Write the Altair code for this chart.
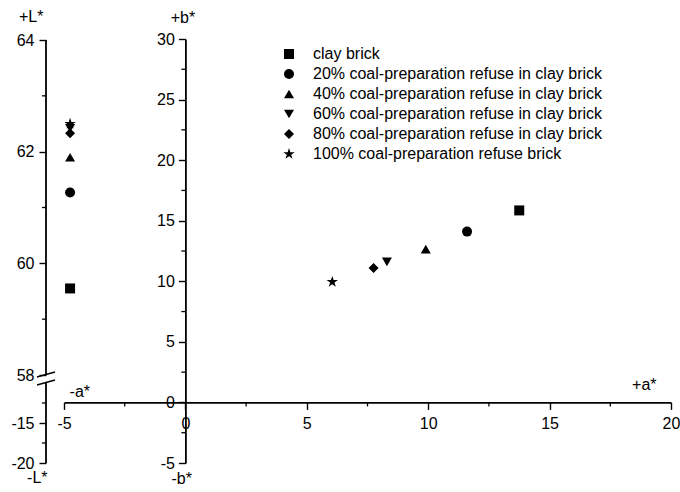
import altair as alt
import pandas as pd

# ---- data ----
labels = [
    "clay brick",
    "20% coal-preparation refuse in clay brick",
    "40% coal-preparation refuse in clay brick",
    "60% coal-preparation refuse in clay brick",
    "80% coal-preparation refuse in clay brick",
    "100% coal-preparation refuse brick",
]
a_star = [13.75, 11.6, 9.9, 8.3, 7.75, 6.05]
b_star = [15.85, 14.1, 12.65, 11.6, 11.1, 9.95]
L_star = [59.55, 61.27, 61.9, 62.42, 62.33, 62.5]

x_ticks = [-5, 0, 5, 10, 15, 20]
x_minor = [-2.5, 2.5, 7.5, 12.5, 17.5]
b_ticks = [-5, 0, 5, 10, 15, 20, 25, 30]
b_minor = [-2.5, 2.5, 7.5, 12.5, 17.5, 22.5, 27.5]
L_ticks = [-20, -15, 58, 60, 62, 64]
L_minor = [-17.5, -12.5, 59, 61, 63]
L_segments_top = [64, -10]
L_segments_bottom = [58, -20]

ann_text = ["+L*", "-L*", "+b*", "-b*", "-a*", "+a*"]
ann_a = [-6.35, -6.1, -0.1, -0.15, -4.35, 18.9]
ann_b = [31.8, -6.25, 31.75, -6.35, 0.9, 1.45]

STAR = ("M0,-1.2L0.269,-0.371L1.141,-0.371L0.436,0.142L0.706,0.971L0,0.458"
        "L-0.706,0.971L-0.436,0.142L-1.141,-0.371L-0.269,-0.371Z")
shapes = ["square", "circle", "triangle-up", "triangle-down", "diamond", STAR]

FONT = "Liberation Sans"
W, H = 607, 424
L_COL_A = -4.75  # a* position where the L* column is drawn

df = pd.DataFrame({"label": labels, "a": a_star, "b": b_star, "L": L_star})
df["La"] = L_COL_A

xscale = alt.Scale(domain=[-5, 20], nice=False, zero=False)
bscale = alt.Scale(domain=[-5, 30], nice=False, zero=False)
Lscale = alt.Scale(domain=[-20, -10, 58, 64], range=[424, 344, 336, 1],
                   nice=False, zero=False)

axis_common = dict(
    title=None, grid=False, labelFont=FONT, labelFontSize=16, labelColor="black",
    domainColor="black", tickColor="black", domainWidth=1.8, tickWidth=1.4,
    tickSize=7, labelOverlap=False, labelFlush=False,
    labelExpr="datum.value + ''",
)
xaxis = alt.Axis(values=x_ticks, orient="bottom", offset=-60.6, labelPadding=6, **axis_common)
baxis = alt.Axis(values=b_ticks, orient="left", offset=-121.4, labelPadding=4, **axis_common)
Laxis = alt.Axis(values=L_ticks, orient="left", offset=18, domain=False, labelPadding=5, **axis_common)

shape_enc = alt.Shape(
    "label:N",
    scale=alt.Scale(domain=labels, range=shapes),
    sort=labels,
    legend=alt.Legend(
        title=None, orient="none", legendX=217, legendY=7, padding=0,
        labelFont=FONT, labelFontSize=16, labelColor="black", labelLimit=500,
        labelOffset=16, rowPadding=4, symbolSize=100,
        symbolFillColor="black", symbolStrokeColor="black", symbolStrokeWidth=0,
    ),
)

# ---- a*-b* part ----
ab_points = alt.Chart(df).mark_point(filled=True, size=100, opacity=1, color="black").encode(
    x=alt.X("a:Q", scale=xscale, axis=xaxis),
    y=alt.Y("b:Q", scale=bscale, axis=baxis),
    shape=shape_enc,
)

b_minor_df = pd.DataFrame({"m": b_minor, "z": 0})
b_minor_ticks = alt.Chart(b_minor_df).mark_rule(color="black", strokeWidth=1.3, xOffset=-4).encode(
    x=alt.X("z:Q", scale=xscale, axis=xaxis), x2="z:Q",
    y=alt.Y("m:Q", scale=bscale, axis=baxis),
)
x_minor_df = pd.DataFrame({"m": x_minor, "z": 0})
x_minor_ticks = alt.Chart(x_minor_df).mark_rule(color="black", strokeWidth=1.3, y2Offset=4).encode(
    y=alt.Y("z:Q", scale=bscale, axis=baxis), y2="z:Q",
    x=alt.X("m:Q", scale=xscale, axis=xaxis),
)

ann = pd.DataFrame({"t": ann_text, "a": ann_a, "b": ann_b})
annotations = alt.Chart(ann).mark_text(
    font=FONT, fontSize=16, color="black", align="center", baseline="middle"
).encode(
    x=alt.X("a:Q", scale=xscale, axis=xaxis),
    y=alt.Y("b:Q", scale=bscale, axis=baxis),
    text="t:N",
)

part_ab = alt.layer(ab_points, b_minor_ticks, x_minor_ticks, annotations)

# ---- L* part (piecewise axis with a break) ----
L_points = alt.Chart(df).mark_point(filled=True, size=100, opacity=1, color="black").encode(
    x=alt.X("La:Q", scale=xscale, axis=xaxis),
    y=alt.Y("L:Q", scale=Lscale, axis=Laxis),
    shape=shape_enc,
)
L_minor_df = pd.DataFrame({"m": L_minor})
L_minor_ticks = alt.Chart(L_minor_df).mark_rule(color="black", strokeWidth=1.3).encode(
    x=alt.value(-22), x2=alt.value(-18),
    y=alt.Y("m:Q", scale=Lscale, axis=Laxis),
)
seg_df = pd.DataFrame({"y0": L_segments_top, "y1": L_segments_bottom})
L_axis_line = alt.Chart(seg_df).mark_rule(color="black", strokeWidth=1.8).encode(
    x=alt.value(-18),
    y=alt.Y("y0:Q", scale=Lscale, axis=Laxis), y2="y1:Q",
)
brk1 = alt.Chart(seg_df.head(1)).mark_rule(color="black", strokeWidth=1.5).encode(
    x=alt.value(-27), x2=alt.value(-9), y=alt.value(338), y2=alt.value(333))
brk2 = alt.Chart(seg_df.head(1)).mark_rule(color="black", strokeWidth=1.5).encode(
    x=alt.value(-27), x2=alt.value(-9), y=alt.value(346), y2=alt.value(341))

part_L = alt.layer(L_points, L_axis_line, L_minor_ticks, brk1, brk2)

chart = alt.layer(part_ab, part_L).resolve_scale(y="independent").properties(
    width=W, height=H,
    autosize=alt.AutoSizeParams(type="none"),
    padding={"left": 64, "top": 39, "right": 9, "bottom": 29},
    background="white",
).configure_view(stroke=None)

chart.save("out.html", embed_options={"renderer": "svg", "actions": False})
